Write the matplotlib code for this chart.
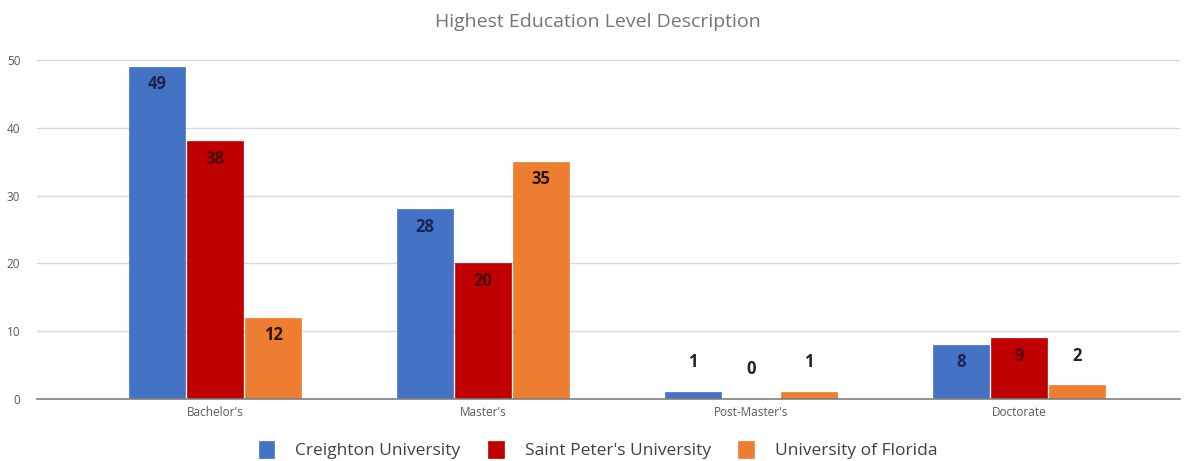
import matplotlib.pyplot as plt
import numpy as np

plt.rcParams['font.family'] = ['Open Sans', 'DejaVu Sans']

levels = ["Bachelor's", "Master's", "Post-Master's", "Doctorate"]
schools = ["Creighton University", "Saint Peter's University", "University of Florida"]
creighton = [49, 28, 1, 8]
saint_peters = [38, 20, 0, 9]
florida = [12, 35, 1, 2]

colors = ['#4472C4', '#C00000', '#ED7D31']
text_inside = ['#1B2550', '#4A0A0A', '#2A1505']

fig = plt.figure(figsize=(11.96, 4.61), dpi=100)
ax = fig.add_axes([37 / 1196, 62 / 461, (1180 - 37) / 1196, (399 - 60) / 461])

x = np.arange(len(levels))
width = 0.21
step = 0.217

for i, (vals, name) in enumerate(zip([creighton, saint_peters, florida], schools)):
    pos = x + (i - 1) * step
    ax.bar(pos, vals, width, color=colors[i], label=name, zorder=3,
           edgecolor=colors[i], linewidth=0.5)
    for p, v in zip(pos, vals):
        if v >= 8:
            ax.text(p, v - 2.6, str(v), ha='center', va='center',
                    fontsize=12, fontweight='bold', color=text_inside[i], zorder=4)
        else:
            ax.text(p, v + 4.4, str(v), ha='center', va='center',
                    fontsize=12, fontweight='bold', color='#222222', zorder=4)

ax.set_xlim(-0.664, 3.60)
ax.set_ylim(0, 50)
ax.set_yticks([0, 10, 20, 30, 40, 50])
ax.yaxis.grid(True, color='#D9D9D9', linewidth=1, zorder=0)
ax.set_axisbelow(True)
for s in ['top', 'right', 'left']:
    ax.spines[s].set_visible(False)
ax.spines['bottom'].set_color('#7F7F7F')
ax.spines['bottom'].set_linewidth(1.2)
ax.spines['bottom'].set_zorder(5)
ax.tick_params(axis='y', length=0, labelsize=8.5, labelcolor='#595959', pad=12)
ax.tick_params(axis='x', length=0, labelsize=8.5, labelcolor='#595959', pad=5)
ax.set_xticks(x)
ax.set_xticklabels(levels)

fig.text(0.5, 1 - 22 / 461, 'Highest Education Level Description', ha='center',
         va='center', fontsize=14, color='#757575')

fig.legend(loc='center', bbox_to_anchor=(0.5, 1 - 450 / 461), ncol=3, frameon=False,
           fontsize=12.5, handlelength=0.9, handleheight=1.1, columnspacing=1.6,
           handletextpad=1.2, labelcolor='#404040')

fig.savefig('out.png', dpi=100)
